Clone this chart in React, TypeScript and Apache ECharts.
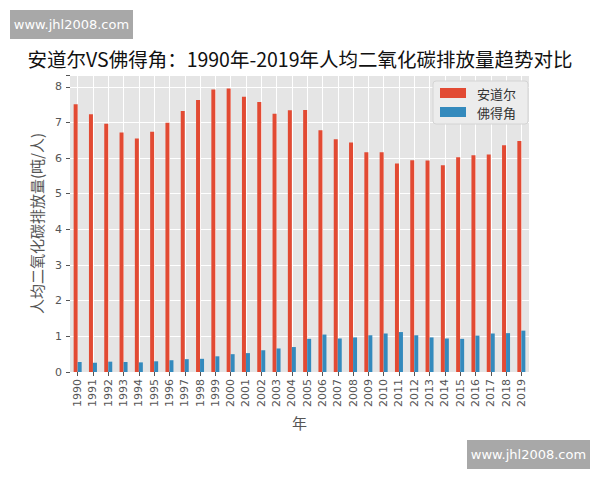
import React, { useEffect, useRef } from "react";
import * as echarts from "echarts";

// Per-capita CO2 emissions (tonnes per person), 1990-2019
const years = [
  "1990", "1991", "1992", "1993", "1994", "1995", "1996", "1997", "1998", "1999",
  "2000", "2001", "2002", "2003", "2004", "2005", "2006", "2007", "2008", "2009",
  "2010", "2011", "2012", "2013", "2014", "2015", "2016", "2017", "2018", "2019",
];

const andorra = [
  7.51, 7.23, 6.96, 6.72, 6.55, 6.74, 6.99, 7.32, 7.63, 7.92,
  7.95, 7.72, 7.57, 7.24, 7.34, 7.35, 6.78, 6.53, 6.44, 6.16,
  6.16, 5.85, 5.94, 5.93, 5.8, 6.02, 6.08, 6.1, 6.36, 6.48,
];

const capeVerde = [
  0.28, 0.26, 0.29, 0.28, 0.27, 0.3, 0.33, 0.36, 0.37, 0.44,
  0.5, 0.53, 0.61, 0.66, 0.7, 0.93, 1.05, 0.94, 0.97, 1.03,
  1.08, 1.12, 1.03, 0.97, 0.94, 0.93, 1.02, 1.08, 1.09, 1.16,
];

const seriesNames = ["安道尔", "佛得角"];
const titleText = "安道尔VS佛得角：1990年-2019年人均二氧化碳排放量趋势对比";
const yAxisTitle = "人均二氧化碳排放量(吨/人)";
const xAxisTitle = "年";
const watermark = "www.jhl2008.com";

// half-slot helper axis so vertical grid lines fall on the year centres
const halfSlots = Array.from({ length: years.length * 2 }, (_, i) => String(i));

const CJK = "'Noto Sans CJK SC', 'Noto Sans', sans-serif";
const LATIN = "'DejaVu Sans', sans-serif";

export default function App() {
  const ref = useRef<HTMLDivElement>(null);

  useEffect(() => {
    if (!ref.current) return;
    const chart = echarts.init(ref.current, undefined, { renderer: "svg" });

    const badge = (x: number, y: number) => ({
      type: "group",
      x,
      y,
      children: [
        { type: "rect", shape: { x: 0, y: 0, width: 123, height: 29 }, style: { fill: "#a8a8a8" } },
        {
          type: "text",
          x: 61.5,
          y: 14.5,
          style: {
            text: watermark,
            fill: "#ffffff",
            font: `13px ${LATIN}`,
            textAlign: "center",
            textVerticalAlign: "middle",
          },
        },
      ],
    });

    chart.setOption({
      animation: false,
      backgroundColor: "#ffffff",
      title: {
        text: titleText,
        left: "center",
        top: 44,
        textStyle: { fontFamily: CJK, fontSize: 19.5, fontWeight: "normal", color: "#111" },
      },
      legend: {
        data: seriesNames,
        orient: "vertical",
        left: 433,
        top: 81,
        padding: [5, 12, 5, 7],
        itemWidth: 26,
        itemHeight: 10,
        itemGap: 5,
        icon: "rect",
        backgroundColor: "#ececec",
        borderColor: "#d4d4d4",
        borderWidth: 1,
        borderRadius: 3,
        textStyle: { fontFamily: CJK, fontSize: 13, color: "#333", lineHeight: 14, padding: [0, 0, 0, 6] },
      },
      grid: {
        left: 70,
        top: 75,
        right: 71,
        bottom: 108,
        show: true,
        backgroundColor: "#e5e5e5",
        borderWidth: 0,
      },
      xAxis: [
        {
          type: "category",
          data: years,
          name: xAxisTitle,
          nameLocation: "middle",
          nameGap: 42,
          nameTextStyle: { fontFamily: CJK, fontSize: 15, color: "#555" },
          axisLine: { show: false },
          axisTick: { show: true, alignWithLabel: true, length: 4, lineStyle: { color: "#555" } },
          axisLabel: { rotate: 90, fontFamily: LATIN, fontSize: 11, color: "#555", margin: 7, interval: 0 },
          splitLine: { show: false },
        },
        {
          type: "category",
          data: halfSlots,
          position: "bottom",
          axisLine: { show: false },
          axisTick: { show: false },
          axisLabel: { show: false },
          splitLine: {
            show: true,
            interval: (index: number) => index % 2 === 1,
            lineStyle: { color: "#ffffff", width: 1 },
          },
        },
      ],
      yAxis: {
        type: "value",
        min: 0,
        max: 8.33,
        interval: 1,
        name: yAxisTitle,
        nameLocation: "middle",
        nameGap: 25,
        nameTextStyle: { fontFamily: CJK, fontSize: 15, color: "#555" },
        axisLine: { show: false },
        axisTick: { show: true, length: 4, lineStyle: { color: "#555" } },
        axisLabel: {
          fontFamily: LATIN,
          fontSize: 11,
          color: "#555",
          margin: 8,
          formatter: (v: number) => (Number.isInteger(v) ? String(v) : ""),
        },
        splitLine: { show: true, lineStyle: { color: "#ffffff", width: 1 } },
      },
      series: [
        {
          name: seriesNames[0],
          type: "bar",
          xAxisIndex: 0,
          data: andorra,
          barWidth: 4,
          barGap: "0%",
          itemStyle: { color: "#E24A33" },
        },
        {
          name: seriesNames[1],
          type: "bar",
          xAxisIndex: 0,
          data: capeVerde,
          barWidth: 4,
          barGap: "0%",
          itemStyle: { color: "#348ABD" },
        },
      ],
      graphic: [badge(10, 10), badge(467, 440)],
    });

    return () => chart.dispose();
  }, []);

  return (
    <div
      ref={ref}
      style={{ position: "fixed", left: 0, top: 0, width: 600, height: 480, background: "#fff" }}
    />
  );
}
